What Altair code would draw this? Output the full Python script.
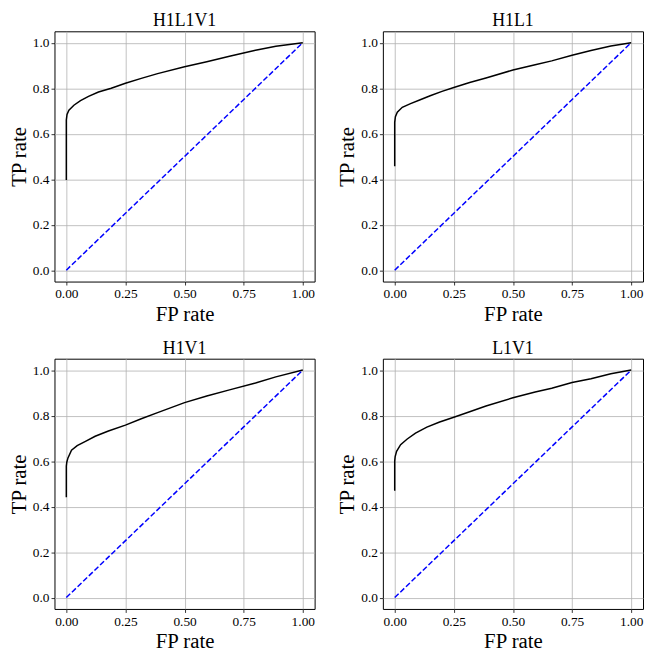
import altair as alt
import pandas as pd

titles = ["H1L1V1", "H1L1", "H1V1", "L1V1"]

fpr_h1l1v1 = [0, 0, 0.003, 0.011, 0.032, 0.06, 0.094, 0.136, 0.19, 0.25, 0.317, 0.386, 0.5, 0.594, 0.69, 0.80, 0.886, 1.0]
tpr_h1l1v1 = [0.396, 0.66, 0.685, 0.703, 0.725, 0.745, 0.764, 0.783, 0.80, 0.822, 0.843, 0.864, 0.894, 0.916, 0.94, 0.967, 0.984, 1.0]

fpr_h1l1 = [0, 0, 0.003, 0.011, 0.032, 0.067, 0.108, 0.15, 0.2, 0.25, 0.317, 0.386, 0.5, 0.594, 0.664, 0.75, 0.83, 0.914, 1.0]
tpr_h1l1 = [0.457, 0.65, 0.675, 0.694, 0.716, 0.732, 0.749, 0.767, 0.786, 0.803, 0.825, 0.845, 0.88, 0.903, 0.92, 0.945, 0.966, 0.985, 1.0]

fpr_h1v1 = [0, 0, 0.002, 0.007, 0.022, 0.046, 0.081, 0.122, 0.178, 0.25, 0.317, 0.386, 0.5, 0.594, 0.69, 0.80, 0.886, 1.0]
tpr_h1v1 = [0.441, 0.578, 0.595, 0.614, 0.648, 0.668, 0.687, 0.709, 0.732, 0.758, 0.786, 0.813, 0.857, 0.886, 0.913, 0.943, 0.97, 1.0]

fpr_l1v1 = [0, 0, 0.002, 0.008, 0.025, 0.053, 0.088, 0.136, 0.19, 0.25, 0.317, 0.386, 0.5, 0.594, 0.664, 0.75, 0.83, 0.914, 1.0]
tpr_l1v1 = [0.47, 0.6, 0.62, 0.643, 0.672, 0.697, 0.723, 0.749, 0.772, 0.793, 0.817, 0.842, 0.878, 0.904, 0.92, 0.945, 0.962, 0.984, 1.0]

diag = [0.0, 1.0]

x_ticks = [0, 0.25, 0.5, 0.75, 1.0]
y_ticks = [0, 0.2, 0.4, 0.6, 0.8, 1.0]

curves = [
    (fpr_h1l1v1, tpr_h1l1v1),
    (fpr_h1l1, tpr_h1l1),
    (fpr_h1v1, tpr_h1v1),
    (fpr_l1v1, tpr_l1v1),
]

xscale = alt.Scale(domain=[-0.05, 1.05], nice=False, zero=False)
yscale = alt.Scale(domain=[-0.05, 1.05], nice=False, zero=False)


def panel(title, fpr, tpr):
    df = pd.DataFrame({"fpr": fpr, "tpr": tpr, "i": list(range(len(fpr)))})
    dd = pd.DataFrame({"fpr": diag, "tpr": diag, "i": [0, 1]})
    x = alt.X("fpr:Q", scale=xscale,
              axis=alt.Axis(values=x_ticks, format=".2f", title="FP rate"))
    y = alt.Y("tpr:Q", scale=yscale,
              axis=alt.Axis(values=y_ticks, format=".1f", title="TP rate"))
    curve = alt.Chart(df).mark_line(color="black", strokeWidth=1.5).encode(
        x=x, y=y, order="i:Q")
    dline = alt.Chart(dd).mark_line(color="#0000ff", strokeWidth=1.5,
                                    strokeDash=[5.5, 2.4]).encode(
        x=x, y=y, order="i:Q")
    return alt.layer(curve, dline).properties(
        width=263, height=253, title=title)


panels = [panel(t, f, tp) for t, (f, tp) in zip(titles, curves)]

chart = alt.concat(*panels, columns=2, spacing=alt.RowColnumber(row=14, column=21)).properties(
    padding=0
).configure_view(
    stroke="black", strokeWidth=1
).configure_axis(
    labelFont="Liberation Serif", titleFont="Liberation Serif",
    labelFontSize=13.5, titleFontSize=21, titleFontWeight="normal",
    labelColor="black", titleColor="black",
    domain=False, ticks=True, tickColor="black", tickSize=3.5, tickWidth=0.8,
    grid=True, gridColor="#b0b0b0", gridWidth=0.8,
    labelPadding=2, labelFlush=False
).configure_axisX(
    titlePadding=3
).configure_axisY(
    titlePadding=3
).configure_title(
    font="Liberation Serif", fontSize=18, fontWeight="normal", color="black", offset=1
)

chart.save("out.html", embed_options={"renderer": "svg", "actions": False})
